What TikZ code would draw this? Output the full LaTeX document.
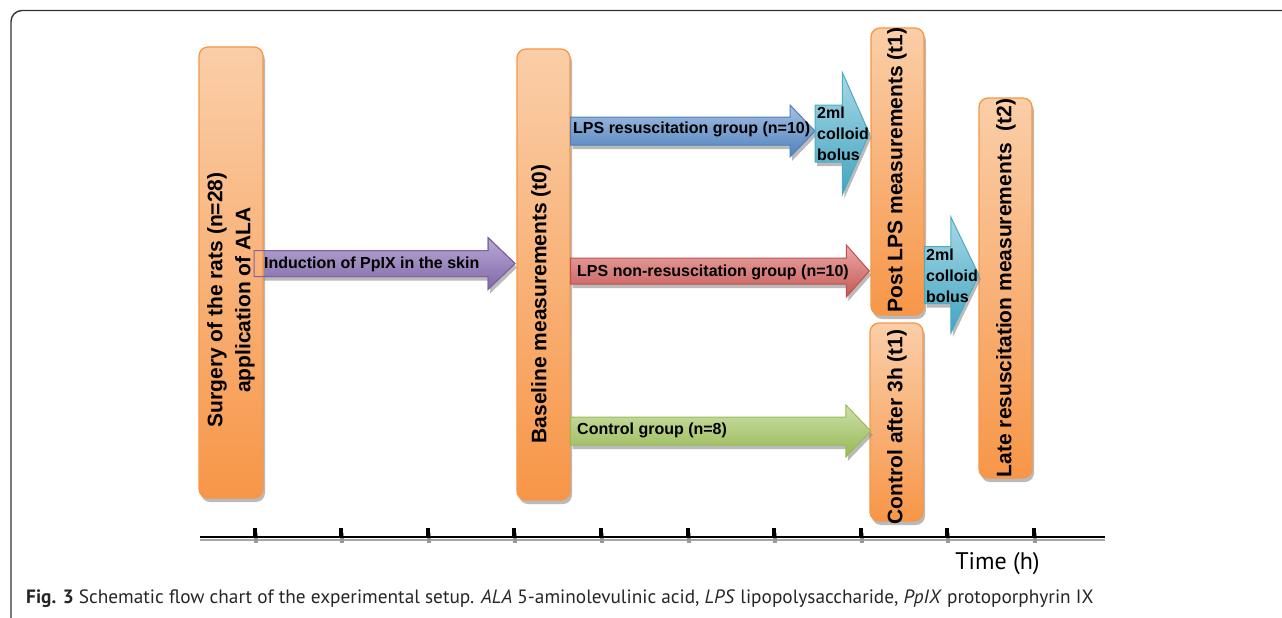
\documentclass[tikz,border=0pt]{standalone}
\usepackage{fontspec}
\setmainfont{Liberation Sans}
\newfontfamily\capfont{PT Sans}
\usetikzlibrary{shadows,calc}
\definecolor{orE}{RGB}{247,150,70}
\definecolor{orT}{RGB}{250,206,168}
\definecolor{orB}{RGB}{247,150,72}
\definecolor{puE}{RGB}{128,100,162}
\definecolor{puT}{RGB}{184,170,212}
\definecolor{puB}{RGB}{128,104,168}
\definecolor{blE}{RGB}{79,129,189}
\definecolor{blT}{RGB}{166,192,226}
\definecolor{blB}{RGB}{79,129,189}
\definecolor{rdE}{RGB}{192,80,77}
\definecolor{rdT}{RGB}{234,170,168}
\definecolor{rdB}{RGB}{196,88,85}
\definecolor{grE}{RGB}{155,187,89}
\definecolor{grT}{RGB}{206,224,170}
\definecolor{grB}{RGB}{150,184,84}
\definecolor{cyE}{RGB}{75,172,198}
\definecolor{cyT}{RGB}{168,216,230}
\definecolor{cyB}{RGB}{66,164,192}
\newcommand\blockarrow[6]{%
\path[#1] let \p1=(#2), \p2=(#3) in
 (\x1,\y1+#4pt) -- (\x2-#6pt,\y1+#4pt) -- (\x2-#6pt,\y1+#5pt) -- (\x2,\y1)
 -- (\x2-#6pt,\y1-#5pt) -- (\x2-#6pt,\y1-#4pt) -- (\x1,\y1-#4pt) -- cycle;}
\begin{document}
\begin{tikzpicture}[x=1pt,y=-1pt,
  shadowed/.style={drop shadow={shadow xshift=2pt,shadow yshift=-4pt,fill=black!45,opacity=0.6}},
  obox/.style={draw=orE,line width=1.3pt,rounded corners=9pt,top color=orT,bottom color=orB,shadowed,inner sep=0pt},
  vtxt/.style={rotate=90,font=\fontsize{21}{28}\selectfont\bfseries,align=center,inner sep=0pt},
  ltxt/.style={anchor=west,font=\fontsize{16}{21}\selectfont\bfseries,inner sep=0pt,align=left},
  arrpu/.style={draw=puE,line width=1pt,top color=puT,bottom color=puB,shadowed},
  arrbl/.style={draw=blE,line width=1pt,top color=blT,bottom color=blB,shadowed},
  arrrd/.style={draw=rdE,line width=1pt,top color=rdT,bottom color=rdB,shadowed},
  arrgr/.style={draw=grE,line width=1pt,top color=grT,bottom color=grB,shadowed},
  arrcy/.style={draw=cyE,line width=1pt,top color=cyT,bottom color=cyB,shadowed},
  axisline/.style={line width=2pt},
  axisshadow/.style={line width=2pt,black!35},
  tick/.style={line width=4pt}]
\useasboundingbox (0,0) rectangle (1282,618);
% outer frame
\draw[line width=1.4pt,black!80,rounded corners=11pt] (11,618) -- (11,10.5) -- (1282,10.5);

% box centres
\path (231,272.5) coordinate (csurg) (543.5,274.5) coordinate (cbase)
      (897.5,171.5) coordinate (cpost) (896.5,422) coordinate (cctrl) (1005.5,288) coordinate (clate);

% purple arrow (drawn behind the first box)
\coordinate (pTail) at (254,263.5);
\coordinate (pTip) at (515,263.5);
\blockarrow{arrpu}{pTail}{pTip}{13}{26}{27}

% orange boxes
\node[obox,minimum width=64pt,minimum height=451pt] (surg) at (csurg) {};
\node[obox,minimum width=53pt,minimum height=451pt] (base) at (cbase) {};
\node[obox,minimum width=53pt,minimum height=287pt] (post) at (cpost) {};
\node[obox,minimum width=53pt,minimum height=198pt] (ctrl) at (cctrl) {};
\node[obox,minimum width=53pt,minimum height=380pt] (late) at (clate) {};

% purple outline over box edge
\blockarrow{draw=puE,line width=1pt}{pTail}{pTip}{13}{26}{27}

% group arrows
\coordinate (bTail) at (base.east |- 0,131);
\coordinate (bTip) at (815,131);
\blockarrow{arrbl}{bTail}{bTip}{14}{26}{25}
\coordinate (rTail) at (base.east |- 0,271);
\coordinate (rTip) at ($(post.west |- 0,271)+(-1,0)$);
\blockarrow{arrrd}{rTail}{rTip}{13}{26}{23}
\coordinate (gTail) at (base.east |- 0,431);
\coordinate (gTip) at ($(ctrl.west |- 0,431)+(1.5,0)$);
\blockarrow{arrgr}{gTail}{gTip}{14}{26}{25}
% colloid bolus arrows
\coordinate (c1Tail) at (bTip |- 0,133.5);
\coordinate (c1Tip) at ($(post.west |- 0,133.5)+(-1,0)$);
\blockarrow{arrcy}{c1Tail}{c1Tip}{28.5}{61}{27}
\coordinate (c2Tail) at (post.east |- 0,275);
\coordinate (c2Tip) at ($(late.west |- 0,275)+(0.5,0)$);
\blockarrow{arrcy}{c2Tail}{c2Tip}{28.5}{58}{28}

% box texts
\node[vtxt] (tsurg) at (231,300) {Surgery of the rats (n=28)\\application of ALA};
\node[vtxt] (tbase) at (541,304) {Baseline measurements (t0)};
\node[vtxt] (tpost) at (897,170) {Post LPS measurements (t1)};
\node[vtxt] (tctrl) at (897,427) {Control after 3h (t1)};
\node[vtxt] (tlate) at (1006,288) {Late resuscitation measurements~ (t2)};

% arrow texts
\node[ltxt] (lpu) at (264,264) {Induction of PpIX in the skin};
\node[ltxt] (lbl) at (573,129) {LPS resuscitation group (n=10)};
\node[ltxt] (lrd) at (577,272) {LPS non-resuscitation group (n=10)};
\node[ltxt] (lgr) at (577,430) {Control group (n=8)};
\node[ltxt] (lc1) at (817,134) {2ml\\colloid\\bolus};
\node[ltxt] (lc2) at (926,276) {2ml\\colloid\\bolus};

% time axis
\draw[axisshadow] (200,540) -- (1105,540);
\draw[tick,black!40]
  (255.5,533) -- (255.5,542.5) (342.1,533) -- (342.1,542.5) (428.7,533) -- (428.7,542.5)
  (515.3,533) -- (515.3,542.5) (601.9,533) -- (601.9,542.5) (688.5,533) -- (688.5,542.5)
  (775.1,533) -- (775.1,542.5) (861.7,533) -- (861.7,542.5) (948.3,533) -- (948.3,542.5)
  (1034.9,533) -- (1034.9,542.5);
\draw[tick]
  (254.5,527.5) -- (254.5,538) (341.1,527.5) -- (341.1,538) (427.7,527.5) -- (427.7,538)
  (514.3,527.5) -- (514.3,538) (600.9,527.5) -- (600.9,538) (687.5,527.5) -- (687.5,538)
  (774.1,527.5) -- (774.1,538) (860.7,527.5) -- (860.7,538) (947.3,527.5) -- (947.3,538)
  (1033.9,527.5) -- (1033.9,538);
\draw[axisline] (200,537) -- (1105,537);
\node[font=\capfont\fontsize{24}{28}\selectfont,inner sep=0pt] (time) at (997.5,564) {Time (h)};

% caption
\node[anchor=base west,inner sep=0pt,font=\capfont\fontsize{19.3}{22}\selectfont,text=black!85] (cap) at (26,603.5)
 {\textbf{Fig. 3} Schematic flow chart of the experimental setup. \textit{ALA} 5-aminolevulinic acid, \textit{LPS} lipopolysaccharide, \textit{PpIX} protoporphyrin IX};
\end{tikzpicture}
\end{document}
